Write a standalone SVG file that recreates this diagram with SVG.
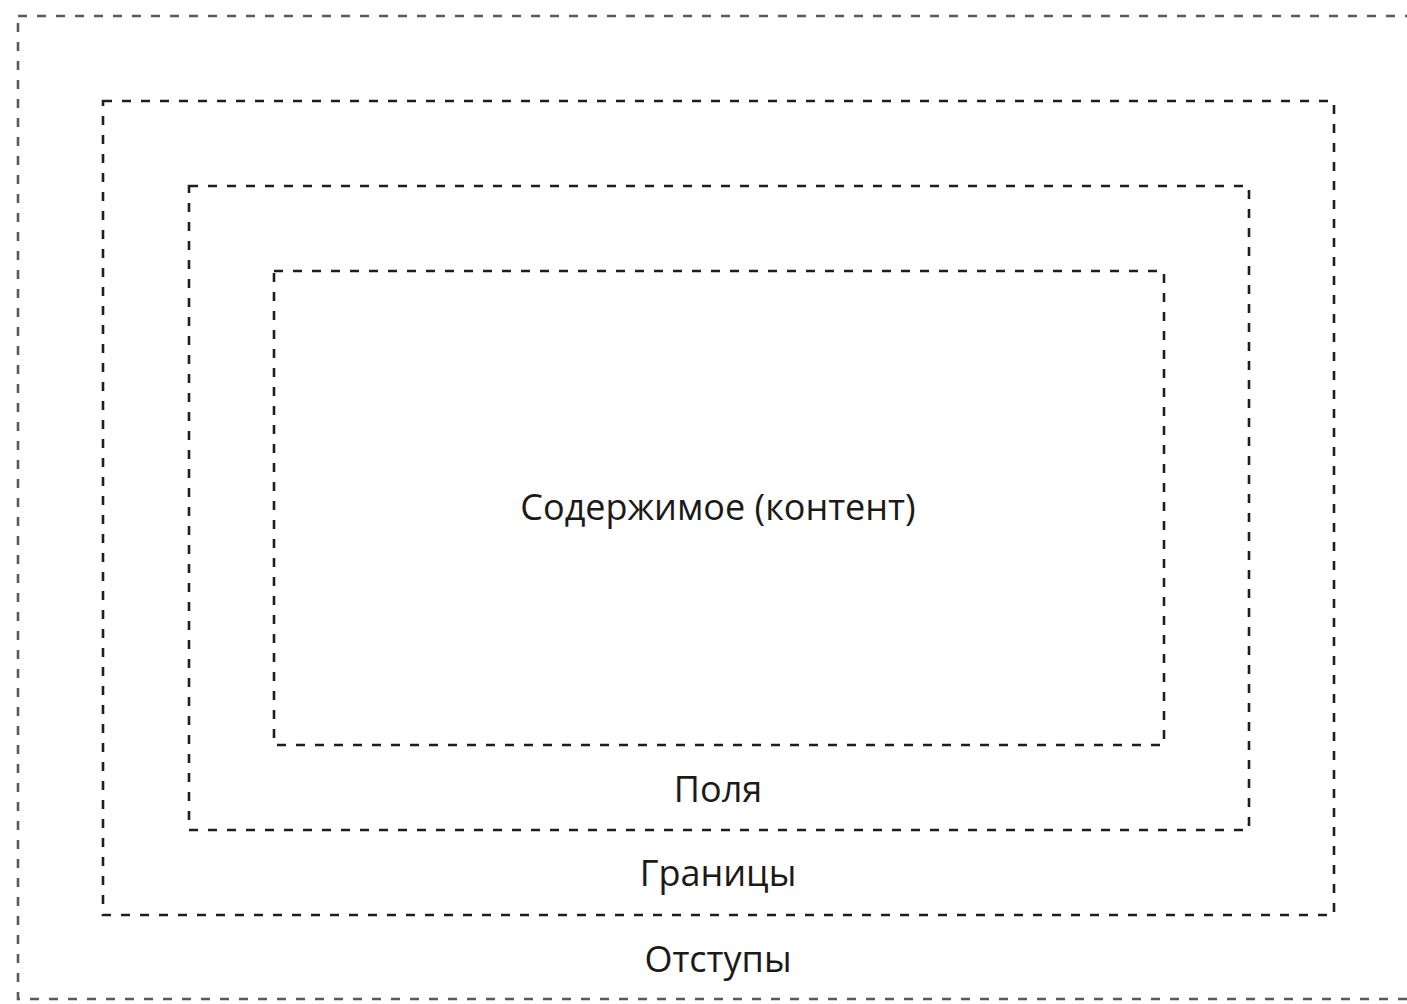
<svg xmlns="http://www.w3.org/2000/svg" width="1407" height="1004" viewBox="0 0 1407 1004">
  <style>
    .box { fill: none; stroke-width: 2.6; stroke-dasharray: 9 10; }
    .outer { stroke: #5a5a5a; }
    .inner { stroke: #1e1e1e; }
    .label { font-family: "Open Sans", "Noto Sans", sans-serif; font-size: 36px; fill: #1a1a1a; text-anchor: middle; }
  </style>
  <rect x="0" y="0" width="1407" height="1004" fill="#ffffff"/>

  <!-- margin -->
  <g id="margin">
    <rect class="box outer" x="18" y="16" width="1400" height="983"/>
    <text class="label" x="718" y="972">Отступы</text>
  </g>

  <!-- border -->
  <g id="border">
    <rect class="box inner" x="103" y="101" width="1231" height="814"/>
    <text class="label" x="718" y="886">Границы</text>
  </g>

  <!-- padding -->
  <g id="padding">
    <rect class="box inner" x="189" y="186" width="1060" height="644"/>
    <text class="label" x="718" y="802">Поля</text>
  </g>

  <!-- content -->
  <g id="content">
    <rect class="box inner" x="274" y="271" width="890" height="474"/>
    <text class="label" x="718" y="520">Содержимое (контент)</text>
  </g>

  <g id="connectors"></g>
</svg>
